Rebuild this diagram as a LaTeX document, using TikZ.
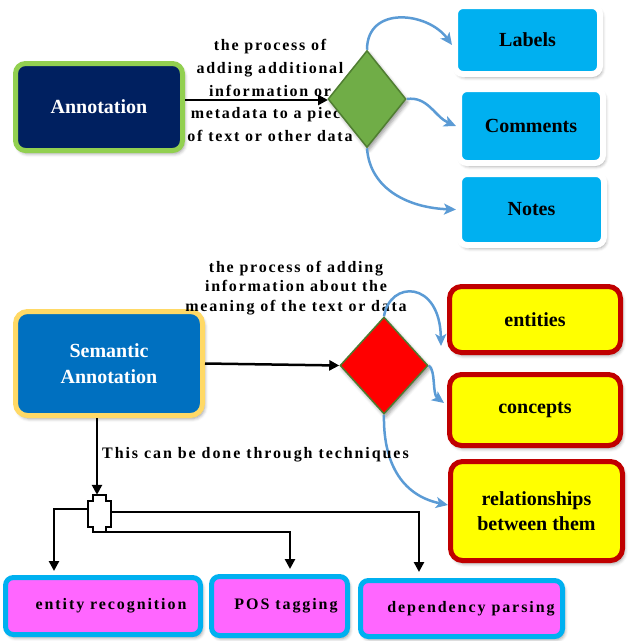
\documentclass[tikz,border=0pt]{standalone}
\usepackage{fontspec}
\setmainfont{Liberation Serif}
\newfontfamily\spacedserif{Liberation Serif}[LetterSpace=12]
\newfontfamily\looseserif{Liberation Serif}[LetterSpace=11]
\usetikzlibrary{arrows.meta,shapes.geometric,shadows.blur}

\definecolor{navy}{HTML}{002060}
\definecolor{limeedge}{HTML}{92D050}
\definecolor{skyfill}{HTML}{00B0F0}
\definecolor{curveblue}{HTML}{5B9BD5}
\definecolor{leaf}{HTML}{70AD47}
\definecolor{leafedge}{HTML}{507E32}
\definecolor{redfill}{HTML}{FF0000}
\definecolor{rededge}{HTML}{4E7A2E}
\definecolor{semblue}{HTML}{0070C0}
\definecolor{semedge}{HTML}{FFD966}
\definecolor{lemon}{HTML}{FFFF00}
\definecolor{darkred}{HTML}{C00000}
\definecolor{pinkfill}{HTML}{FF66FF}

\tikzset{
  softshadow/.style={blur shadow={shadow xshift=2pt,shadow yshift=-3pt,
      shadow blur radius=3.5pt,shadow opacity=40}},
  box/.style={rounded corners=10pt, inner sep=0pt, align=center,
      font=\fontsize{20}{25}\selectfont\bfseries, softshadow},
  bluebox/.style={box, draw=white, line width=6pt, fill=skyfill, rounded corners=8pt},
  yellowbox/.style={box, draw=darkred, line width=5pt, fill=lemon, rounded corners=12pt},
  pinkbox/.style={box, draw=skyfill, line width=5pt, fill=pinkfill, rounded corners=8pt,
      font=\fontsize{16}{20}\spacedserif\bfseries},
  decision/.style={diamond, inner sep=0pt, line width=1.5pt, softshadow},
  remark/.style={align=center, inner sep=0pt},
  blk/.style={draw=black, line width=2.5pt, -{Triangle[length=10pt,width=10pt]}},
  curvy/.style={draw=curveblue, line width=2.5pt,
      -{Stealth[length=12pt,width=11pt,inset=3pt]}},
}

\begin{document}
\begin{tikzpicture}[x=1pt,y=-1pt]
\useasboundingbox (0,0) rectangle (633,641);

% ---------- upper flow: Annotation ----------
\node[box, draw=limeedge, line width=5pt, fill=navy, text=white,
      minimum width=167pt, minimum height=87pt] (annot) at (99,107) {Annotation};

\node[bluebox, minimum width=145pt, minimum height=68pt] (labels) at (527.5,40) {Labels};
\node[bluebox, minimum width=144pt, minimum height=74pt] (comments) at (531,126) {Comments};
\node[bluebox, minimum width=145pt, minimum height=71pt] (notes) at (531.5,209.5) {Notes};

\node[remark, font=\fontsize{16}{22.75}\looseserif\bfseries] (annotdef) at (270,90.5)
  {the process of\\adding additional\\information or\\metadata to a piece\\of text or other data};

\draw[blk] (annot.east |- 0,100) -- (328,100) coordinate (gdin);

\node[decision, draw=leafedge, fill=leaf, minimum width=78pt, minimum height=97pt]
  (gd) at (367,99) {};

\draw[curvy] (gd.north) .. controls (367,5) and (428,12) .. ([yshift=-5pt]labels.west);
\draw[curvy] (gd.east) .. controls (428,96) and (435,117) .. (comments.west);
\draw[curvy] (gd.south) .. controls (370,190) and (410,208) .. (notes.west);

% ---------- lower flow: Semantic Annotation ----------
\node[box, draw=semedge, line width=5pt, fill=semblue, text=white, rounded corners=12pt,
      font=\fontsize{20}{26}\selectfont\bfseries,
      minimum width=187pt, minimum height=104pt] (sem) at (109,363.5) {Semantic\\Annotation};

\node[remark, font=\fontsize{16}{19.5}\looseserif\bfseries] (semdef) at (296,288)
  {the process of adding\\information about the\\meaning of the text or data};

\node[yellowbox, minimum width=171pt, minimum height=66pt] (ent) at (535,319.5) {entities};
\node[yellowbox, minimum width=171pt, minimum height=71pt] (con) at (535,410) {concepts};
\node[yellowbox, minimum width=172pt, minimum height=99pt] (rel) at (536.5,511)
  {relationships\\between them};

\node[decision, draw=rededge, fill=redfill, minimum width=88pt, minimum height=97pt]
  (rd) at (384,365.5) {};

\draw[blk] (sem.east) -- (rd.west);

\draw[curvy] (rd.north) .. controls (390,280) and (440,280) .. ([xshift=-6pt,yshift=9pt]ent.south west);
\draw[curvy] (rd.east) .. controls (436,370) and (432,394) .. ([xshift=-3pt,yshift=7pt]con.west);
\draw[curvy] (rd.south) .. controls (383,460) and (400,495) .. ([yshift=6pt]rel.west);

\node[anchor=west, inner sep=0pt, font=\fontsize{16}{18}\spacedserif\bfseries]
  (howto) at (102,455) {This can be done through techniques};

% ---------- techniques ----------
\node[pinkbox, minimum width=195pt, minimum height=57pt] (er) at (103,606)
  {\hspace*{16pt}entity recognition};
\node[pinkbox, minimum width=136pt, minimum height=59pt] (pos) at (279.5,606)
  {\hspace*{13pt}POS tagging};
\node[pinkbox, minimum width=202pt, minimum height=56pt] (dep) at (461.5,608.5)
  {\hspace*{19pt}dependency parsing};

\node[inner sep=0pt, minimum width=22.4pt, minimum height=36.7pt] (hub) at (99.5,513.35) {};

\draw[blk] ([xshift=-2.5pt]hub.north |- sem.south) -- ([xshift=-2.5pt]hub.north);
\draw[blk] ([yshift=4.35pt]hub.west) -| ([xshift=-49pt,yshift=4pt]er.north);
\draw[blk] ([yshift=1.35pt]hub.east) -| ([xshift=-42.5pt,yshift=6pt]dep.north);
\draw[blk] ([xshift=6.5pt]hub.south) -| ([xshift=10.5pt,yshift=5pt]pos.north);

% stepped junction block
\draw[line width=2.2pt, fill=white] ([shift={(-6.2,-18.35)}]hub.center)
  -- ++(12.7,0) -- ++(0,5.7) -- ++(4.7,0) -- ++(0,26) -- ++(-4.7,0) -- ++(0,5)
  -- ++(-12.7,0) -- ++(0,-5) -- ++(-5,0) -- ++(0,-26) -- ++(5,0) -- cycle;
\end{tikzpicture}
\end{document}
